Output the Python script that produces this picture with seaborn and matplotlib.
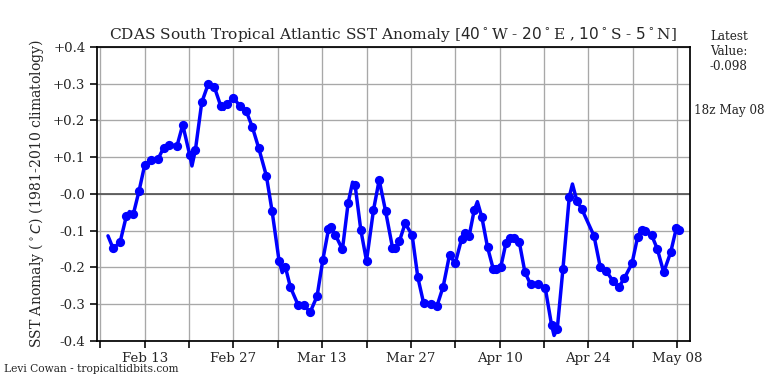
import pandas as pd
import numpy as np
import matplotlib
matplotlib.use("Agg")
import matplotlib.pyplot as plt
import seaborn as sns

# Daily (dotted) values, x in days after Feb 13 2025
dot_days = [-5.0, -3.9, -2.9, -1.8, -0.9, 0.0, 1.05, 2.1, 3.0, 3.9, 5.1, 6.0, 7.1, 8.0,
            9.0, 10.0, 11.0, 12.0, 13.0, 14.0, 15.0, 16.0, 17.0, 18.0, 19.2, 20.1, 21.2,
            22.2, 23.0, 24.2, 25.1, 26.1, 27.2, 28.1, 29.0, 29.4, 30.1, 31.2, 32.1, 33.2,
            34.1, 35.0, 36.1, 37.0, 38.0, 39.1, 39.5, 40.2, 41.1, 42.2, 43.1, 44.0, 45.2,
            46.1, 47.1, 48.1, 49.0, 50.0, 50.5, 51.2, 52.0, 53.2, 54.1, 55.0, 55.5, 56.2,
            57.0, 57.6, 58.3, 59.1, 60.0, 60.9, 62.1, 63.2, 64.2, 65.1, 66.0, 67.0, 68.2,
            69.0, 70.9, 71.9, 72.8, 73.9, 74.8, 75.7, 76.9, 77.8, 78.4, 79.0, 80.0, 80.9,
            81.9, 83.0, 83.9, 84.3]
dot_vals = [-0.148, -0.132, -0.060, -0.055, 0.008, 0.079, 0.093, 0.095, 0.126, 0.133, 0.131,
            0.188, 0.106, 0.120, 0.249, 0.298, 0.290, 0.239, 0.244, 0.262, 0.239, 0.226,
            0.181, 0.124, 0.049, -0.047, -0.182, -0.199, -0.254, -0.302, -0.302, -0.322,
            -0.278, -0.180, -0.096, -0.091, -0.112, -0.151, -0.025, 0.024, -0.098, -0.182,
            -0.044, 0.038, -0.046, -0.146, -0.148, -0.128, -0.080, -0.112, -0.227, -0.296,
            -0.299, -0.306, -0.252, -0.166, -0.189, -0.123, -0.105, -0.114, -0.044, -0.063,
            -0.145, -0.204, -0.204, -0.198, -0.134, -0.121, -0.121, -0.130, -0.213, -0.246,
            -0.246, -0.255, -0.356, -0.368, -0.204, -0.008, -0.019, -0.042, -0.114, -0.200,
            -0.209, -0.237, -0.254, -0.229, -0.189, -0.116, -0.098, -0.101, -0.112, -0.150,
            -0.213, -0.159, -0.093, -0.098]

# line-only points (start of record and sub-daily extremes)
extra_days = [-5.8, -2.4, 7.45, 12.5, 21.7, 32.8, 52.5, 64.6, 67.5]
extra_vals = [-0.114, -0.048, 0.076, 0.230, -0.214, 0.032, -0.021, -0.385, 0.027]

ytick_vals = [0.4, 0.3, 0.2, 0.1, 0.0, -0.1, -0.2, -0.3, -0.4]
ytick_labels = ["+0.4", "+0.3", "+0.2", "+0.1", "-0.0", "-0.1", "-0.2", "-0.3", "-0.4"]
xtick_labels = ["", "Feb 13", "", "Feb 27", "", "Mar 13", "", "Mar 27", "", "Apr 10",
                "", "Apr 24", "", "May 08"]

base = pd.Timestamp("2025-02-13")
dots = pd.DataFrame({"date": base + pd.to_timedelta(dot_days, unit="D"), "sst": dot_vals})
extra = pd.DataFrame({"date": base + pd.to_timedelta(extra_days, unit="D"), "sst": extra_vals})
line = pd.concat([dots, extra]).sort_values("date").reset_index(drop=True)

sns.set_style("white")
plt.rcParams["font.family"] = ["DejaVu Serif"]

fig = plt.figure(figsize=(8, 4), dpi=96)
ax = fig.add_axes([0.126, 0.112, 0.772, 0.766])

ax.axhline(0, color="#555555", lw=1.3, zorder=1)
sns.lineplot(data=line, x="date", y="sst", color="blue", lw=2.6, ax=ax, zorder=3)
sns.scatterplot(data=dots, x="date", y="sst", color="blue", s=48, linewidth=0, ax=ax, zorder=4)

xticks = base + pd.to_timedelta(np.arange(-7, 85, 7), unit="D")
ax.set_xticks(xticks)
ax.set_xticklabels(xtick_labels, fontsize=10)
ax.set_xlim(base - pd.Timedelta(days=7.57), base + pd.Timedelta(days=86.0))

ax.set_yticks(ytick_vals)
ax.set_yticklabels(ytick_labels, fontsize=10)
ax.set_ylim(-0.4, 0.4)

ax.grid(True, color="#a8a8a8", lw=1)
ax.set_axisbelow(True)
ax.tick_params(axis="both", direction="out", length=5, width=1.2, color="black",
               bottom=True, left=True)
for s in ax.spines.values():
    s.set_color("black")
    s.set_linewidth(1.3)

ax.set_xlabel("")
ax.set_ylabel(r"SST Anomaly ($^\circ C$) (1981-2010 climatology)", fontsize=10.5, labelpad=5)
ax.set_title(r"CDAS South Tropical Atlantic SST Anomaly [$40^\circ$W - $20^\circ$E , "
             r"$10^\circ$S - $5^\circ$N]", fontsize=11.5)

fig.text(0.949, 0.865, "Latest\nValue:\n-0.098", ha="center", va="center", fontsize=9)
fig.text(0.95, 0.711, "18z May 08", ha="center", va="center", fontsize=9)
fig.text(0.005, 0.038, "Levi Cowan - tropicaltidbits.com", ha="left", va="center", fontsize=8)

fig.savefig("out.png", dpi=96)
